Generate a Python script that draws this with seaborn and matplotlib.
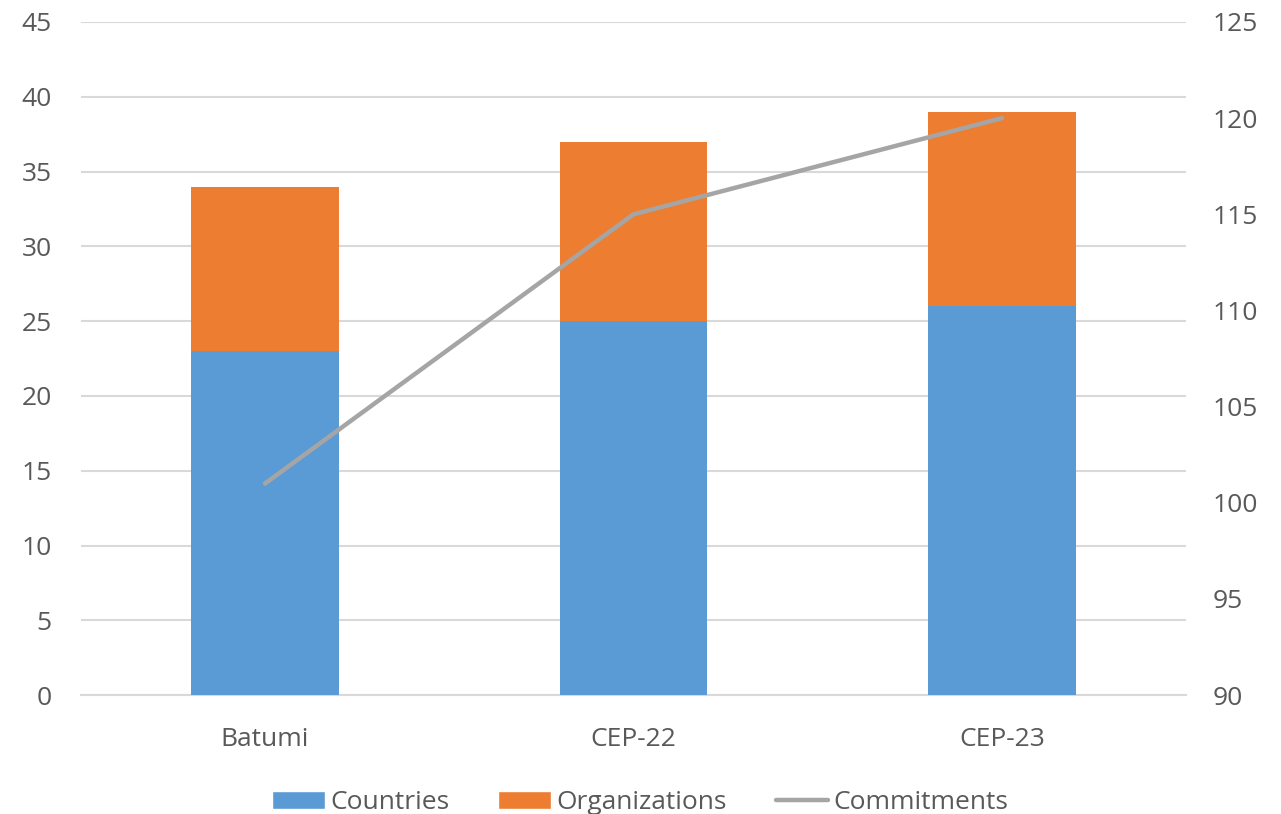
import pandas as pd
import numpy as np
import matplotlib.pyplot as plt
import seaborn as sns
from matplotlib.patches import Patch
from matplotlib.lines import Line2D

# Data
events = ['Batumi', 'CEP-22', 'CEP-23']
countries = [23, 25, 26]
organizations = [11, 12, 13]
commitments = [101, 115, 120]

sns.set_style('white')
plt.rcParams['font.family'] = ['Open Sans', 'DejaVu Sans']

df = pd.DataFrame({'event': events,
                   'countries': countries,
                   'organizations': organizations,
                   'commitments': commitments})
df['total'] = df['countries'] + df['organizations']

blue = '#5B9BD5'
orange = '#ED7D31'
gray = '#A5A5A5'
text_col = '#595959'

fig = plt.figure(figsize=(12.81, 8.14), dpi=100)
ax = fig.add_axes([0.063, 0.146, 0.863, 0.827])

# stacked bars: total first (orange), then countries on top (blue)
sns.barplot(data=df, x='event', y='total', color=orange, width=0.4,
            saturation=1, linewidth=0, ax=ax, zorder=2)
sns.barplot(data=df, x='event', y='countries', color=blue, width=0.4,
            saturation=1, linewidth=0, ax=ax, zorder=3)

ax.set_ylim(0, 45)
ax.set_yticks(range(0, 46, 5))
ax.set_xlim(-0.5, 2.5)
ax.yaxis.grid(True, color='#D9D9D9', linewidth=1.5, zorder=0)
ax.set_axisbelow(True)
ax.set_xlabel('')
ax.set_ylabel('')
for s in ax.spines.values():
    s.set_visible(False)
ax.spines['bottom'].set_visible(True)
ax.spines['bottom'].set_color('#D9D9D9')
ax.spines['bottom'].set_linewidth(1.5)
ax.tick_params(axis='both', length=0, labelsize=19, labelcolor=text_col)
ax.tick_params(axis='y', pad=21)
ax.tick_params(axis='x', pad=23)

ax2 = ax.twinx()
sns.lineplot(data=df, x='event', y='commitments', color=gray, linewidth=3.2,
             ax=ax2, solid_capstyle='round', zorder=4)
ax2.set_ylim(90, 125)
ax2.set_yticks(range(90, 126, 5))
ax2.set_ylabel('')
for s in ax2.spines.values():
    s.set_visible(False)
ax2.tick_params(axis='y', length=0, labelsize=19, labelcolor=text_col, pad=19)

handles = [Patch(facecolor=blue, label='Countries'),
           Patch(facecolor=orange, label='Organizations'),
           Line2D([0], [0], color=gray, linewidth=3.2, label='Commitments')]
leg = fig.legend(handles=handles, loc='center', bbox_to_anchor=(0.5, 0.014),
                 ncol=3, frameon=False, fontsize=19, handlelength=2.0,
                 handleheight=0.7, handletextpad=0.2, columnspacing=1.85)
for t in leg.get_texts():
    t.set_color(text_col)

fig.savefig('out.png', dpi=100)
